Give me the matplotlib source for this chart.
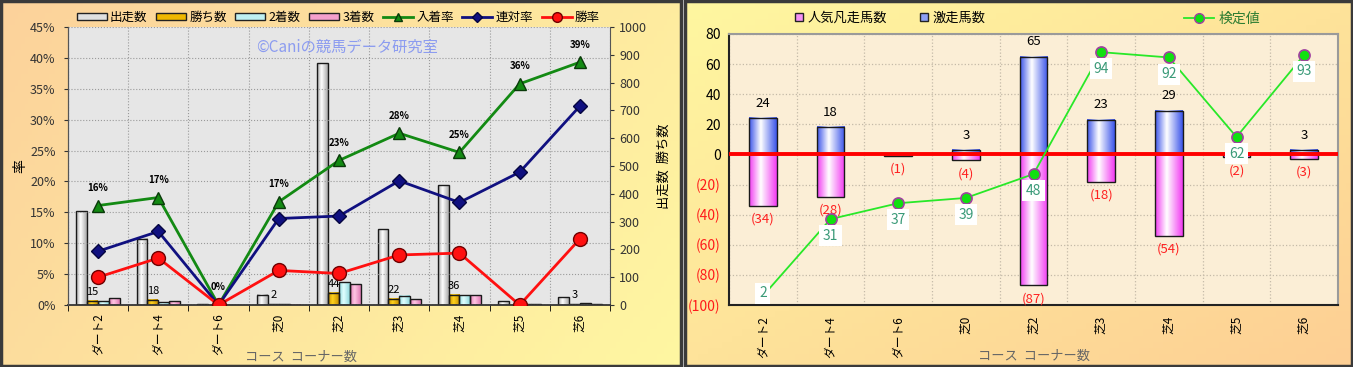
import matplotlib
matplotlib.use('Agg')
import matplotlib.pyplot as plt
import numpy as np
from matplotlib.colors import LinearSegmentedColormap
from matplotlib.patches import Patch, Rectangle
from matplotlib.lines import Line2D
from matplotlib.ticker import FixedLocator, FuncFormatter

plt.rcParams['font.family'] = ['Noto Sans CJK JP', 'DejaVu Sans']

courses = ['ダート2', 'ダート4', 'ダート6', '芝0', '芝2', '芝3', '芝4', '芝5', '芝6']

# left chart: counts (right axis)
starts = [338, 238, 3, 36, 869, 273, 430, 14, 28]
wins = [15, 18, 0, 2, 44, 22, 36, 0, 3]
seconds = [14, 10, 0, 3, 82, 33, 35, 3, 6]
thirds = [25, 13, 0, 1, 75, 21, 35, 2, 2]
# left chart: rates in % (left axis)
place_rate = [16.1, 17.4, 0.0, 16.7, 23.4, 27.8, 24.7, 35.8, 39.3]
quinella_rate = [8.7, 11.9, 0.0, 14.0, 14.4, 20.1, 16.6, 21.5, 32.2]
win_rate = [4.5, 7.6, 0.0, 5.6, 5.1, 8.1, 8.4, 0.0, 10.7]
place_labels = ['16%', '17%', '0%', '17%', '23%', '28%', '25%', '36%', '39%']

# right chart
hot_horses = [24, 18, 0, 3, 65, 23, 29, 0, 3]
flop_horses = [-34, -28, -1, -4, -87, -18, -54, -2, -3]
test_value = [2, 31, 37, 39, 48, 94, 92, 62, 93]

W, H = 1353, 367
fig = plt.figure(figsize=(W / 100, H / 100), dpi=100)


def px(x0, y0, x1, y1):
    return [x0 / W, 1 - y1 / H, (x1 - x0) / W, (y1 - y0) / H]


def panel_bg(rect, c0, c1, diag):
    bg = fig.add_axes(rect, zorder=-10)
    gx = np.linspace(0, 1, 200)[None, :]
    gy = np.linspace(0, 1, 60)[:, None]
    g = gx * (1 - diag) + (gx + gy) / 2 * diag
    cm = LinearSegmentedColormap.from_list('', [c0, c1])
    bg.imshow(g, aspect='auto', cmap=cm, extent=[0, 1, 0, 1], origin='upper')
    bg.set_xlim(0, 1)
    bg.set_ylim(0, 1)
    bg.add_patch(Rectangle((0, 0), 1, 1, fill=False, edgecolor='#3a3a3a',
                           lw=2.5, transform=bg.transAxes, clip_on=False))
    bg.axis('off')


panel_bg(px(1, 1, 681, 366), '#fcd29b', '#fff7a2', 0.6)
panel_bg(px(685, 1, 1352, 366), '#fff7a0', '#fdcf94', 1.0)


def grad_bars(ax, xs, vals, width, c_edge, c_mid, z):
    cm = LinearSegmentedColormap.from_list('', [(0, c_edge), (0.42, c_mid), (1, c_edge)])
    g = np.linspace(0, 1, 64)[None, :]
    for x, v in zip(xs, vals):
        if v == 0:
            continue
        ax.imshow(g, extent=[x - width / 2, x + width / 2, min(0, v), max(0, v)],
                  aspect='auto', cmap=cm, zorder=z, interpolation='bilinear')
    ax.bar(xs, vals, width, facecolor='none', edgecolor='#1a1a1a', lw=1.0, zorder=z + 0.1)


# ---------------- left chart ----------------
x = np.arange(len(courses))
ax = fig.add_axes(px(68, 27, 610, 305))
ax.set_facecolor('#e6e6e6')
bw = 0.18
grad_bars(ax, x - 1.5 * bw, starts, bw, '#a8a8a8', '#ffffff', 2)
grad_bars(ax, x - 0.5 * bw, wins, bw, '#c99000', '#ffd21e', 2)
grad_bars(ax, x + 0.5 * bw, seconds, bw, '#8fd8dc', '#e2ffff', 2)
grad_bars(ax, x + 1.5 * bw, thirds, bw, '#e07ab4', '#ffc6e4', 2)
for xi, w in zip(x, wins):
    if w > 0:
        ax.annotate(str(w), (xi - 0.5 * bw, w), xytext=(0, 3), textcoords='offset points',
                    ha='center', va='bottom', fontsize=8, zorder=5)
ax.set_xlim(-0.5, len(courses) - 0.5)
ax.set_ylim(0, 1000)
ax.set_yticks(range(0, 1001, 100))
ax.set_xticks(x)
ax.set_xticklabels(courses, rotation=90, fontsize=8.5)
ax.set_xticks(np.arange(-0.5, len(courses), 1), minor=True)
ax.tick_params(axis='x', which='major', length=0, pad=6)
ax.tick_params(axis='x', which='minor', length=4)
ax.grid(True, which='minor', axis='x', color='#9a9a9a', ls=':', lw=0.8)
ax.set_xlabel('コース  コーナー数', fontsize=9.5, color='#666666')
ax.xaxis.set_label_coords(0.43, -0.165)

axl = ax.twinx()
# twinx moves the original ticks to the left, so set sides afterwards
ax.yaxis.tick_right()
ax.yaxis.set_label_position('right')
ax.set_ylabel('出走数  勝ち数', fontsize=9.5, labelpad=8)
ax.tick_params(axis='y', labelsize=9, colors='#333333', length=3)
ax.spines['top'].set_visible(False)
ax.spines['left'].set_color('#555555')
ax.spines['right'].set_color('#555555')
ax.spines['bottom'].set_color('#333333')
ax.spines['bottom'].set_linewidth(1.3)

axl.yaxis.tick_left()
axl.yaxis.set_label_position('left')
axl.set_ylim(0, 45)
axl.set_yticks(range(0, 46, 5))
axl.yaxis.set_major_formatter(FuncFormatter(lambda v, p: f'{v:.0f}%'))
axl.tick_params(axis='y', labelsize=9, colors='#333333', length=3, pad=6)
axl.grid(True, axis='y', color='#9a9a9a', ls=':', lw=0.8)
axl.set_ylabel('率', fontsize=10, labelpad=2)
for s in ['top', 'right', 'bottom']:
    axl.spines[s].set_visible(False)
axl.spines['left'].set_color('#555555')
axl.plot(x, place_rate, color='#138a13', lw=2, marker='^', ms=8, mfc='#138a13',
         mec='#0a3a0a', label='入着率', zorder=6)
axl.plot(x, quinella_rate, color='#101080', lw=2, marker='D', ms=7, mfc='#101080',
         mec='#050540', label='連対率', zorder=6)
axl.plot(x, win_rate, color='#ff1010', lw=2, marker='o', ms=10, mfc='#ff1010',
         mec='#700000', label='勝率', zorder=6)
for xi, v, t in zip(x, place_rate, place_labels):
    axl.annotate(t, (xi, v), xytext=(0, 9), textcoords='offset points', ha='center',
                 va='bottom', fontsize=7, fontweight='bold', zorder=7)
axl.text(0.515, 0.928, '©Caniの競馬データ研究室', transform=axl.transAxes, ha='center',
         va='center', fontsize=11, color='#8c9cf0')
axl.set_xlim(-0.5, len(courses) - 0.5)

lh = [Patch(facecolor='#e0e0e0', edgecolor='#222222', label='出走数'),
      Patch(facecolor='#f0b800', edgecolor='#222222', label='勝ち数'),
      Patch(facecolor='#bff0f2', edgecolor='#222222', label='2着数'),
      Patch(facecolor='#f4a0cc', edgecolor='#222222', label='3着数'),
      Line2D([], [], color='#138a13', lw=2, marker='^', ms=6, mec='#0a3a0a', label='入着率'),
      Line2D([], [], color='#101080', lw=2, marker='D', ms=5, mec='#050540', label='連対率'),
      Line2D([], [], color='#ff1010', lw=2, marker='o', ms=7, mec='#700000', label='勝率')]
fig.legend(handles=lh, loc='center', bbox_to_anchor=(0.250, 0.953), ncol=7, frameon=False,
           fontsize=9, handlelength=2.4, handleheight=0.55, columnspacing=0.7,
           handletextpad=0.25)

# ---------------- right chart ----------------
ar = fig.add_axes(px(729, 34, 1338, 305))
ar.set_facecolor('#fbeed6')
rw = 0.41
grad_bars(ar, x, hot_horses, rw, '#3c55ea', '#ffffff', 2)
grad_bars(ar, x, flop_horses, rw, '#f23cf2', '#ffffff', 2)
ar.axhline(0, color='#ff0000', lw=2.8, zorder=4)
for xi, v in zip(x, hot_horses):
    if v > 0:
        ar.annotate(str(v), (xi, v), xytext=(0, 6), textcoords='offset points',
                    ha='center', va='bottom', fontsize=9.5, zorder=5)
for xi, v in zip(x, flop_horses):
    ar.annotate(f'({-v})', (xi, v), xytext=(0, -5), textcoords='offset points',
                ha='center', va='top', fontsize=9.5, color='#ff2020', zorder=5)
ar.set_xlim(-0.5, len(courses) - 0.5)
ar.set_ylim(-100, 80)
ar.yaxis.set_major_locator(FixedLocator(range(-100, 81, 20)))
ar.yaxis.set_major_formatter(FuncFormatter(lambda v, p: f'({-v:.0f})' if v < 0 else f'{v:.0f}'))
ar.tick_params(axis='y', labelsize=10, length=0, pad=6)
for lab, v in zip(ar.get_yticklabels(), range(-100, 81, 20)):
    lab.set_color('#ff1a1a' if v < 0 else 'black')
ar.set_xticks(x)
ar.set_xticklabels(courses, rotation=90, fontsize=8.5)
ar.set_xticks(np.arange(-0.5, len(courses), 1), minor=True)
ar.tick_params(axis='x', which='both', length=0, pad=8)
ar.grid(True, which='minor', axis='x', color='#c4baa8', ls=':', lw=0.9)
ar.grid(True, which='major', axis='y', color='#c4baa8', ls=':', lw=0.9)
ar.set_axisbelow(True)
ar.set_xlabel('コース  コーナー数', fontsize=9.5, color='#666666')
ar.xaxis.set_label_coords(0.5, -0.165)
ar.spines['left'].set_color('#222222')
ar.spines['left'].set_linewidth(1.5)
ar.spines['bottom'].set_color('#222222')
ar.spines['bottom'].set_linewidth(1.5)
ar.spines['top'].set_color('#9a9a9a')
ar.spines['right'].set_color('#9a9a9a')
ar.spines['top'].set_linewidth(1.5)
ar.spines['right'].set_linewidth(1.5)

at = ar.twinx()
at.set_ylim(-1.4, 100.85)
at.set_yticks([])
for s in at.spines.values():
    s.set_visible(False)
at.plot(x, test_value, color='#28e828', lw=1.3, marker='o', ms=8, mfc='#10e010',
        mec='#a040a0', mew=1.2, zorder=6)
for xi, v in zip(x, test_value):
    off = -12 if v > 10 else 2
    at.annotate(str(v), (xi, v), xytext=(0, off), textcoords='offset points', ha='center',
                va='center', fontsize=10, color='#3a9a78', zorder=7,
                bbox=dict(boxstyle='square,pad=0.25', fc='white', ec='none'))
at.set_xlim(-0.5, len(courses) - 0.5)

rh = [Line2D([], [], ls='none', marker='s', ms=6, mfc='#f590f5', mec='#222222', label='人気凡走馬数'),
      Line2D([], [], ls='none', marker='s', ms=6, mfc='#8ea0f5', mec='#222222', label='激走馬数')]
fig.legend(handles=rh, loc='center', bbox_to_anchor=(890 / W, 1 - 18 / H), ncol=2,
           frameon=False, fontsize=9.5, handlelength=0.7, handletextpad=0.3, columnspacing=2.5)
gh = [Line2D([], [], color='#28e828', lw=1.3, marker='o', ms=7, mfc='#10e010', mec='#a040a0',
             label='検定値')]
leg = fig.legend(handles=gh, loc='center', bbox_to_anchor=(1222 / W, 1 - 19 / H), frameon=False,
                 fontsize=10, handlelength=2.2, handletextpad=0.3)
for t in leg.get_texts():
    t.set_color('#2e7d32')

fig.savefig('out.png', dpi=100)
